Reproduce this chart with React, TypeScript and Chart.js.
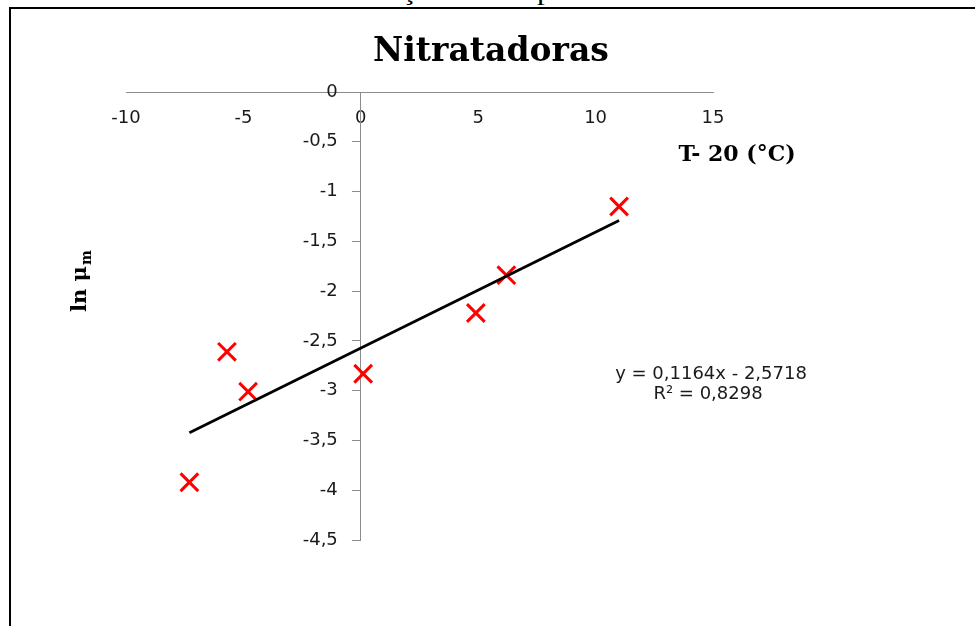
import React, { useEffect, useRef } from "react";
import { Chart, registerables } from "chart.js";

Chart.register(...registerables);

// ---- data ----
const TEMP_DIFF = [-7.3, -5.7, -4.8, 0.1, 4.9, 6.2, 11.0]; // T - 20 (°C)
const LN_MU = [-3.92, -2.61, -3.01, -2.83, -2.22, -1.84, -1.15]; // ln μm
const TREND_SLOPE = 0.1164;
const TREND_INTERCEPT = -2.5718;
const R_SQUARED = "0,8298";
const X_TICKS = [-10, -5, 0, 5, 10, 15];
const Y_TICKS = [0, -0.5, -1, -1.5, -2, -2.5, -3, -3.5, -4, -4.5];
const TITLE = "Nitratadoras";
const X_TITLE = "T- 20 (°C)";
const CAPTION = "Variação da temperatura";

const fmt = (v: number) => String(v).replace(".", ",");

const textPlugin = {
  id: "excelText",
  afterDraw(chart: any) {
    const { ctx } = chart;
    const xs = chart.scales.x;
    const ys = chart.scales.y;
    const axisX = xs.getPixelForValue(0);
    ctx.save();
    // y tick labels
    ctx.font = '18px "DejaVu Sans"';
    ctx.fillStyle = "#1a1a1a";
    ctx.textAlign = "right";
    ctx.textBaseline = "middle";
    ys.ticks.forEach((t: any) => {
      ctx.fillText(fmt(t.value), axisX - 23, ys.getPixelForValue(t.value));
    });
    // chart title
    ctx.fillStyle = "#000";
    ctx.textAlign = "center";
    ctx.textBaseline = "alphabetic";
    ctx.font = 'bold 33px "DejaVu Serif"';
    ctx.fillText(TITLE, 491, 61);
    // x axis title
    ctx.font = 'bold 22px "DejaVu Serif"';
    ctx.fillText(X_TITLE, 737, 161);
    // equation
    ctx.font = '18px "DejaVu Sans"';
    ctx.fillStyle = "#1a1a1a";
    const sign = TREND_INTERCEPT < 0 ? "-" : "+";
    ctx.fillText(
      `y = ${fmt(TREND_SLOPE)}x ${sign} ${fmt(Math.abs(TREND_INTERCEPT))}`,
      711,
      379
    );
    ctx.fillText(`R² = ${R_SQUARED}`, 708, 399);
    // y axis title (rotated)
    ctx.fillStyle = "#000";
    ctx.translate(86, 312);
    ctx.rotate(-Math.PI / 2);
    ctx.textAlign = "left";
    ctx.font = 'bold 21px "DejaVu Serif"';
    const main = "ln μ";
    ctx.fillText(main, 0, 0);
    const w = ctx.measureText(main).width;
    ctx.font = 'bold 14px "DejaVu Serif"';
    ctx.fillText("m", w + 1, 5);
    ctx.restore();
  },
};

export default function App() {
  const ref = useRef<HTMLCanvasElement>(null);

  useEffect(() => {
    if (!ref.current) return;
    const xMin = Math.min(...TEMP_DIFF);
    const xMax = Math.max(...TEMP_DIFF);
    const chart = new Chart(ref.current, {
      type: "scatter",
      data: {
        datasets: [
          {
            label: "Tendência",
            type: "line",
            data: [
              { x: xMin, y: TREND_SLOPE * xMin + TREND_INTERCEPT },
              { x: xMax, y: TREND_SLOPE * xMax + TREND_INTERCEPT },
            ],
            borderColor: "#000",
            borderWidth: 2.8,
            pointRadius: 0,
            fill: false,
            order: 0,
          } as any,
          {
            label: "ln μm",
            data: TEMP_DIFF.map((x, i) => ({ x, y: LN_MU[i] })),
            pointStyle: "crossRot",
            pointRadius: 12.5,
            pointBorderWidth: 3,
            borderColor: "#ff0000",
            backgroundColor: "#ff0000",
            order: 1,
          },
        ],
      },
      options: {
        responsive: false,
        animation: false,
        layout: { padding: { left: 126, right: 262, top: 92, bottom: 86 } },
        plugins: {
          legend: { display: false },
          title: { display: false },
          tooltip: { enabled: false },
        },
        scales: {
          x: {
            type: "linear",
            min: -10,
            max: 15,
            position: { y: 0 } as any,
            afterBuildTicks: (s: any) => {
              s.ticks = X_TICKS.map((v) => ({ value: v }));
            },
            afterFit: (s: any) => {
              s.height = 0;
            },
            grid: { display: false, drawTicks: false },
            border: { display: true, color: "#8c8c8c", width: 1 },
            ticks: {
              padding: 16,
              color: "#1a1a1a",
              font: { family: '"DejaVu Sans"', size: 18 },
              callback: (v: any) => fmt(Number(v)),
              maxRotation: 0,
              autoSkip: false,
            },
          },
          y: {
            type: "linear",
            min: -4.5,
            max: 0,
            position: { x: 0 } as any,
            afterBuildTicks: (s: any) => {
              s.ticks = Y_TICKS.map((v) => ({ value: v }));
            },
            afterFit: (s: any) => {
              s.width = 0;
            },
            grid: {
              display: true,
              drawOnChartArea: false,
              drawTicks: true,
              tickLength: 8,
              color: "#8c8c8c",
            },
            border: { display: true, color: "#8c8c8c", width: 1 },
            ticks: { display: false },
          },
        },
      },
      plugins: [textPlugin],
    });
    return () => chart.destroy();
  }, []);

  return (
    <div
      style={{
        position: "fixed",
        left: 0,
        top: 0,
        width: 975,
        height: 626,
        overflow: "hidden",
        background: "#fff",
      }}
    >
      <div
        style={{
          position: "absolute",
          left: 0,
          top: -21,
          width: 975,
          textAlign: "center",
          fontFamily: '"Liberation Serif"',
          fontSize: 26,
          lineHeight: "26px",
          whiteSpace: "nowrap",
          transform: "scaleX(1.2)",
          color: "#000",
        }}
      >
        {CAPTION}
      </div>
      <div
        style={{
          position: "absolute",
          left: 9,
          top: 7,
          width: 1000,
          height: 700,
          borderTop: "2px solid #000",
          borderLeft: "2px solid #000",
        }}
      />
      <canvas
        ref={ref}
        width={975}
        height={626}
        style={{ position: "absolute", left: 0, top: 0, display: "block" }}
      />
    </div>
  );
}
